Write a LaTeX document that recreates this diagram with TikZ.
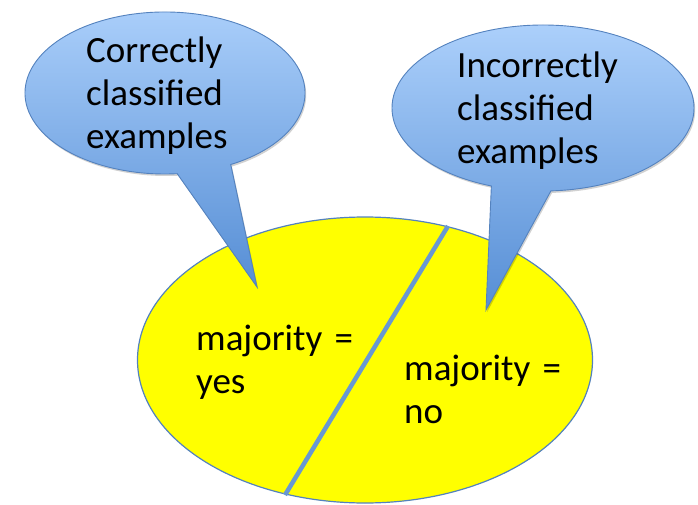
\documentclass[tikz,border=0pt]{standalone}
\usepackage{fontspec}
\setmainfont{Carlito}
\usetikzlibrary{shapes.geometric,shadows}
\definecolor{calltop}{RGB}{172,208,251}
\definecolor{callbot}{RGB}{86,142,213}
\definecolor{callline}{RGB}{84,130,190}
\definecolor{splitline}{RGB}{104,152,210}
\definecolor{blobfill}{RGB}{255,255,0}
\begin{document}
\begin{tikzpicture}[x=1pt,y=-1pt,
  callout/.style={draw=callline, line width=0.9pt, top color=calltop, bottom color=callbot,
    drop shadow={shadow xshift=1.2pt, shadow yshift=-2pt, opacity=0.18, fill=black}},
  lbl/.style={anchor=base west, text width=230pt, align=left, inner sep=0pt,
    font=\fontsize{37}{43}\selectfont}]
\useasboundingbox (0,0) rectangle (698,505);
% yellow ellipse
\node (blob) [ellipse, draw=callline, line width=1.2pt, fill=blobfill, inner sep=0pt,
  minimum width=455pt, minimum height=286pt] at (365,360) {};
\coordinate (s1) at (448,226);
\coordinate (s2) at (285,495);
\draw[splitline, line width=4.5pt] (s1) -- (s2);
% left callout
\coordinate (ltip) at (257,287);
\path[callout] ({165+140*cos(62)},{93+81*sin(62)})
  arc[start angle=62, end angle=-275, x radius=140, y radius=81] -- (ltip) -- cycle;
% right callout
\coordinate (rtip) at (486,310);
\path[callout] ({543+151*cos(87)},{108+83*sin(87)})
  arc[start angle=87, end angle=-250, x radius=151, y radius=83] -- (rtip) -- cycle;
% texts
\node (lt) [lbl] at (86,63) {Correctly\\classified\\examples};
\node (rt) [lbl] at (457,78) {Incorrectly\\classified\\examples};
\node (yes) [lbl] at (196,350) {majority =\\yes};
\node (no) [lbl] at (404,380) {majority =\\no};
\end{tikzpicture}
\end{document}
